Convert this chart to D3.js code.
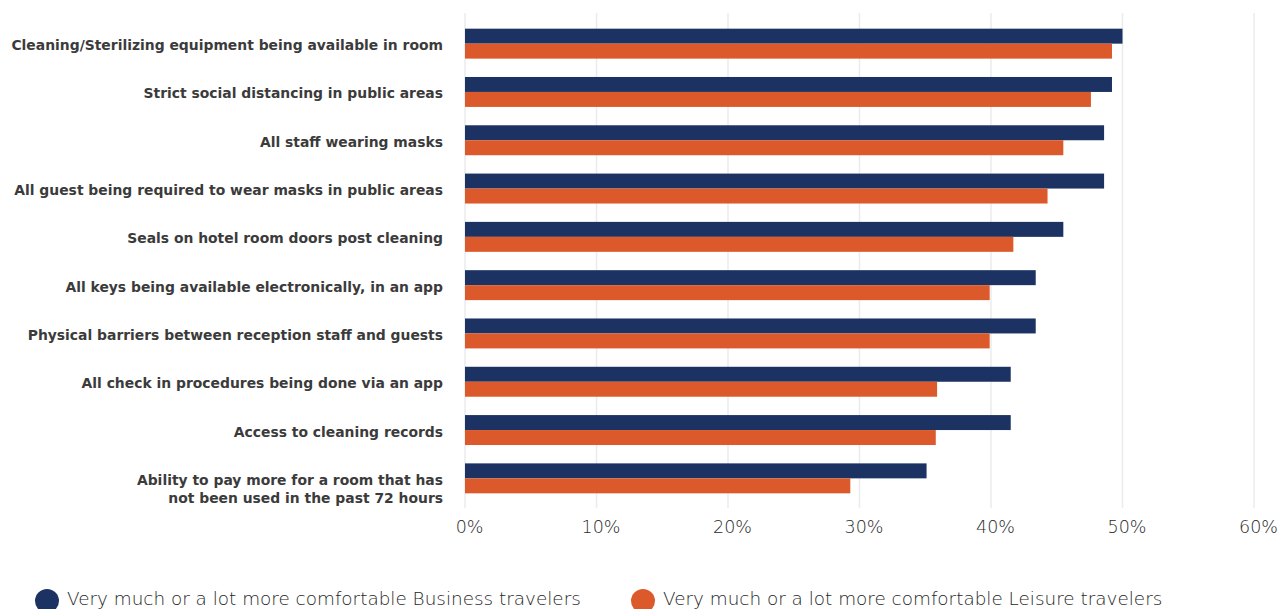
<!DOCTYPE html>
<html>
<head>
<meta charset="utf-8">
<script src="https://cdn.jsdelivr.net/npm/d3@7"></script>
<style>
  html, body { margin: 0; padding: 0; background: #fff; }
  svg { display: block; }
</style>
</head>
<body>
<svg id="chart" width="1285" height="609"></svg>
<script>
// Hotel safety measures: share of travelers feeling much more comfortable
const categories = [
  "Cleaning/Sterilizing equipment being available in room",
  "Strict social distancing in public areas",
  "All staff wearing masks",
  "All guest being required to wear masks in public areas",
  "Seals on hotel room doors post cleaning",
  "All keys being available electronically, in an app",
  "Physical barriers between reception staff and guests",
  "All check in procedures being done via an app",
  "Access to cleaning records",
  "Ability to pay more for a room that has\nnot been used in the past 72 hours"
];
const businessValues = [50.0, 49.2, 48.6, 48.6, 45.5, 43.4, 43.4, 41.5, 41.5, 35.1];
const leisureValues  = [49.2, 47.6, 45.5, 44.3, 41.7, 39.9, 39.9, 35.9, 35.8, 29.3];
const seriesNames = [
  "Very much or a lot more comfortable Business travelers",
  "Very much or a lot more comfortable Leisure travelers"
];
const seriesColors = ["#1b3262", "#dc592b"];
const tickValues = [0, 10, 20, 30, 40, 50, 60];

const svg = d3.select("#chart");
const plot = { left: 465, right: 1254, top: 19.5, bottom: 502.5 };

const x = d3.scaleLinear().domain([0, 60]).range([plot.left, plot.right]);
const y = d3.scaleBand().domain(categories).range([plot.top, plot.bottom]).paddingInner(0.38).paddingOuter(0.19);
const sub = d3.scaleBand().domain([0, 1]).range([0, y.bandwidth()]);

// vertical gridlines
svg.append("g")
  .selectAll("line")
  .data(tickValues)
  .join("line")
  .attr("x1", d => x(d)).attr("x2", d => x(d))
  .attr("y1", 13).attr("y2", 508)
  .attr("stroke", "#ebebeb")
  .attr("stroke-width", 1.5);

// x axis labels
const xAxis = d3.axisBottom(x).tickValues(tickValues).tickFormat(d => d + "%").tickSize(0).tickPadding(0);
const gx = svg.append("g").attr("transform", "translate(4,533)").call(xAxis);
gx.select(".domain").remove();
gx.selectAll("text")
  .attr("dy", 0)
  .attr("font-family", "'DejaVu Sans', sans-serif")
  .attr("font-weight", 200)
  .attr("font-size", 17.5)
  .attr("fill", "#2a2a2a");

// bars
const series = [businessValues, leisureValues];
series.forEach((vals, si) => {
  svg.append("g")
    .selectAll("rect")
    .data(categories.map((c, i) => ({ c, v: vals[i] })))
    .join("rect")
    .attr("x", x(0))
    .attr("y", d => y(d.c) + sub(si))
    .attr("width", d => x(d.v) - x(0))
    .attr("height", sub.bandwidth())
    .attr("fill", seriesColors[si]);
});

// category labels
const labels = svg.append("g")
  .selectAll("text")
  .data(categories)
  .join("text")
  .attr("x", 443)
  .attr("y", d => y(d) + y.bandwidth() / 2 + 6.5)
  .attr("text-anchor", "end")
  .attr("font-family", "'DejaVu Sans', sans-serif")
  .attr("font-weight", 700)
  .attr("font-size", 13.9)
  .attr("fill", "#3b3b3b");
labels.each(function(d) {
  const lines = d.split("\n");
  const t = d3.select(this);
  lines.forEach((ln, i) => {
    t.append("tspan").attr("x", 443).attr("dy", i === 0 ? 0 : 18).text(ln);
  });
});

// legend
const legendItems = [{ x: 47, tx: 67 }, { x: 643, tx: 663 }];
const legend = svg.append("g")
  .selectAll("g")
  .data(seriesNames)
  .join("g");
legend.append("circle")
  .attr("cx", (d, i) => legendItems[i].x)
  .attr("cy", 601)
  .attr("r", 12)
  .attr("fill", (d, i) => seriesColors[i]);
legend.append("text")
  .attr("x", (d, i) => legendItems[i].tx)
  .attr("y", 605)
  .attr("font-family", "'DejaVu Sans', sans-serif")
  .attr("font-weight", 200)
  .attr("font-size", 18.4)
  .attr("fill", "#262626")
  .text(d => d);
</script>
</body>
</html>
